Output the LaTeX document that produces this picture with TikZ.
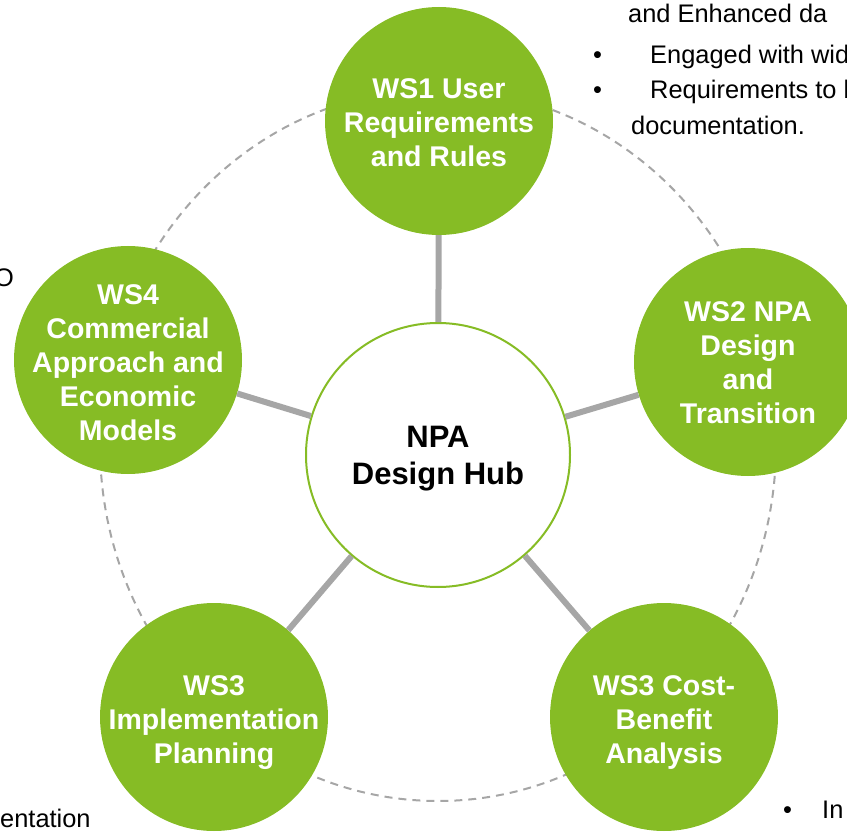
\documentclass[tikz,border=0pt]{standalone}
\usepackage{fontspec}
\setmainfont{Liberation Sans}
\definecolor{npagreen}{HTML}{86BC25}
\definecolor{npagray}{HTML}{A6A6A6}
\begin{document}
\begin{tikzpicture}[x=1pt,y=-1pt,
  ws/.style={circle, fill=npagreen, minimum size=228pt, inner sep=0pt},
  wstext/.style={text=white, font=\fontsize{28.5}{34}\selectfont\bfseries, align=center, inner sep=0pt},
  hubstyle/.style={circle, draw=npagreen, line width=2pt, fill=white, minimum size=264pt, inner sep=0pt},
  hubtext/.style={font=\fontsize{31}{37}\selectfont\bfseries, align=center, inner sep=0pt},
  link/.style={draw=npagray, line width=6pt},
  orbit/.style={draw=npagray, line width=2pt, dash pattern=on 8pt off 6pt},
  side/.style={font=\fontsize{25.4}{35}\selectfont, inner sep=0pt, anchor=base west},
  sideR/.style={font=\fontsize{25.4}{35}\selectfont, inner sep=0pt, anchor=base east},
]
\useasboundingbox (0,0) rectangle (847,832);
\clip (0,0) rectangle (847,832);
\draw[orbit] (438,445) ellipse [x radius=338pt, y radius=356pt];

\node[hubstyle] (hub) at (438,455) {};
\node[ws] (ws1) at (439,121) {};
\node[ws] (ws2) at (748,362) {};
\node[ws] (ws3c) at (664,717) {};
\node[ws] (ws3i) at (214,717) {};
\node[ws] (ws4) at (128,360) {};

\draw[link] (hub) -- (ws1);
\draw[link] (hub) -- (ws2);
\draw[link] (hub) -- (ws3c);
\draw[link] (hub) -- (ws3i);
\draw[link] (hub) -- (ws4);

\node[hubtext] (hubt) at ([yshift=-4pt]hub.center) {NPA\\Design Hub};
\node[wstext] (ws1t) at ([yshift=-2pt]ws1.center) {WS1 User\\Requirements\\and Rules};
\node[wstext] (ws2t) at ([yshift=-1pt]ws2.center) {WS2 NPA\\Design\\and\\Transition};
\node[wstext] (ws3ct) at ([yshift=-6pt]ws3c.center) {WS3 Cost-\\Benefit\\Analysis};
\node[wstext] (ws3it) at ([yshift=-6pt]ws3i.center) {WS3\\Implementation\\Planning};
\node[wstext] (ws4t) at ([yshift=-3pt]ws4.center) {WS4\\Commercial\\Approach and\\Economic\\Models};

% side text fragments
\node[side] (t1) at (628,22.7) {and Enhanced da};
\node[side] (b2) at (593,63.7) {•};
\node[side] (t2) at (650,63.7) {Engaged with wid};
\node[side] (b3) at (593,98.7) {•};
\node[side] (t3) at (650,98.7) {Requirements to b};
\node[side] (t4) at (631,134.5) {documentation.};
\node[sideR] (tl) at (14,287) {O};
\node[side] (tb) at (0,827) {entation};
\node[side] (b5) at (783,818) {•};
\node[side] (t5) at (822,818) {In};
\end{tikzpicture}
\end{document}
